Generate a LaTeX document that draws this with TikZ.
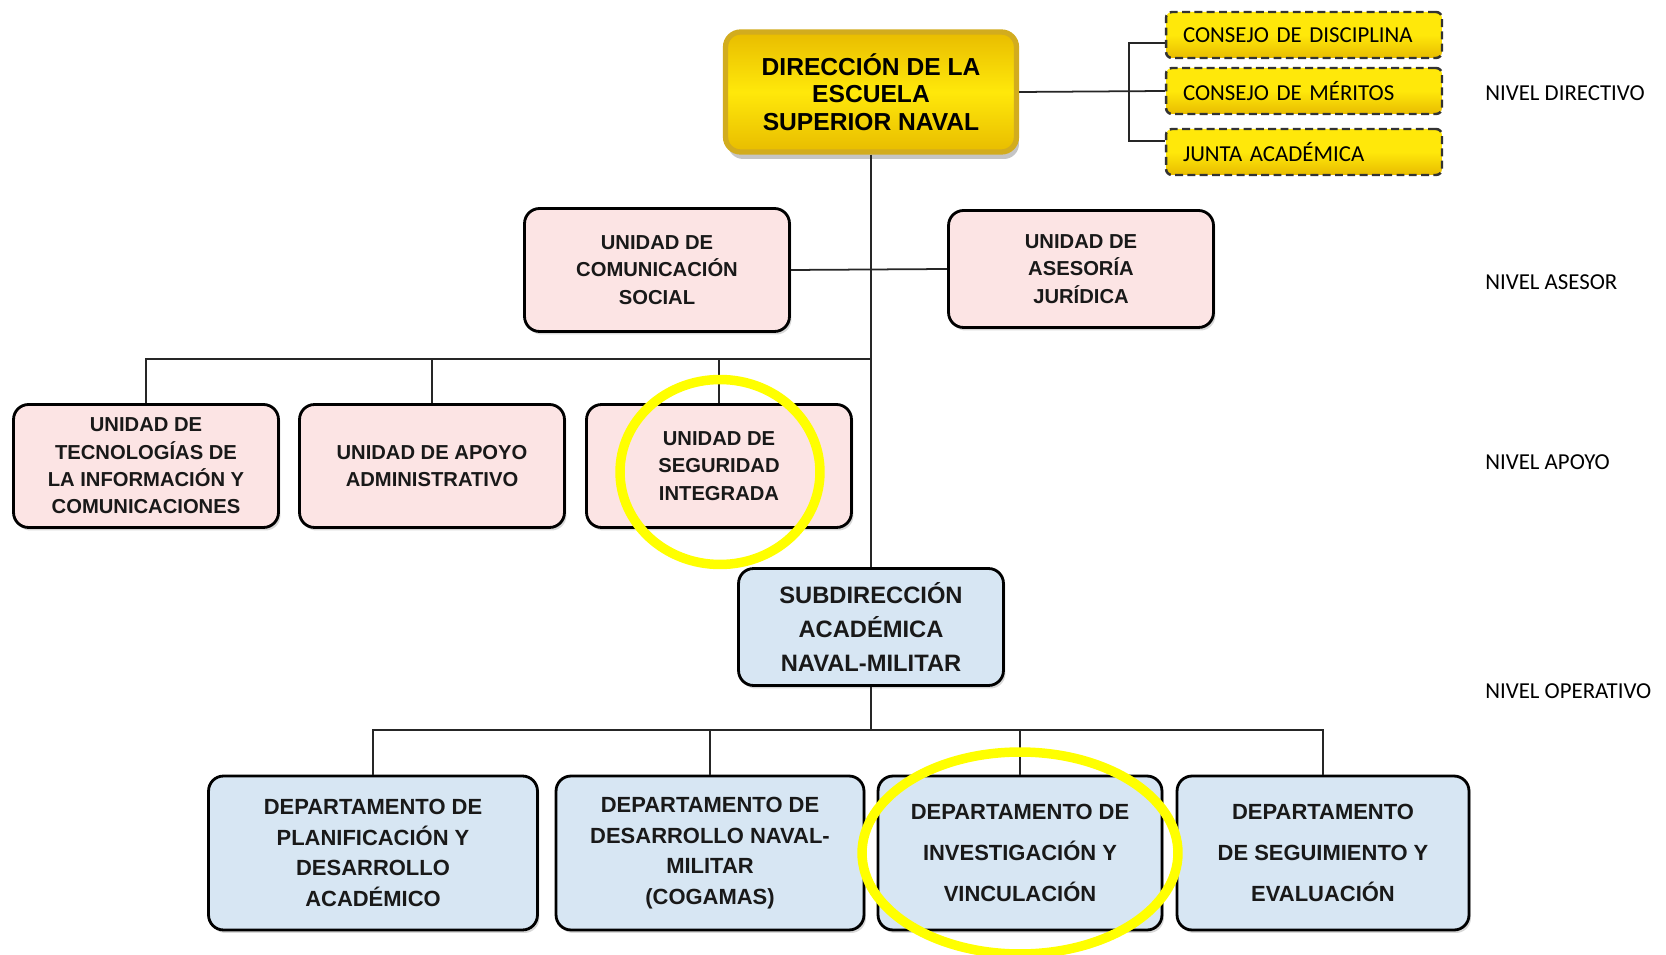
\documentclass[tikz,border=0pt]{standalone}
\usepackage{fontspec}
\setmainfont{Liberation Sans}
\newfontfamily\calib{Carlito}
\usetikzlibrary{shadows,calc}
\definecolor{pinkf}{RGB}{252,228,228}
\definecolor{bluef}{RGB}{215,230,243}
\definecolor{hl}{RGB}{255,255,0}
\definecolor{goldA}{RGB}{255,232,10}
\definecolor{goldB}{RGB}{232,188,0}
\definecolor{goldE}{RGB}{210,172,30}
\tikzset{
  box/.style={draw=black, line width=1.6pt, rounded corners=0.3cm, align=center,
    inner sep=2pt, text=black!90,
    drop shadow={shadow xshift=0.04cm, shadow yshift=-0.06cm, opacity=0.3}},
  pinkbox/.style={box, fill=pinkf, minimum width=5.3cm, minimum height=2.46cm,
    font=\bfseries\fontsize{11.5}{15.6}\selectfont},
  bluebox/.style={box, fill=bluef, minimum height=3.08cm,
    font=\bfseries\fontsize{12.5}{17.5}\selectfont},
  dashbox/.style={draw=black!80, line width=1.4pt, dash pattern=on 4.5pt off 2.5pt,
    rounded corners=0.12cm, top color=goldA, bottom color=goldB, middle color=goldA,
    minimum width=5.52cm, minimum height=0.92cm, text width=4.84cm, align=left,
    inner xsep=0.34cm, font=\calib\fontsize{13}{15}\selectfont},
  conn/.style={draw=black!85, line width=1pt},
  level/.style={anchor=west, font=\calib\fontsize{13}{15}\selectfont, inner sep=0pt},
  ring/.style={draw=hl, line width=5.4pt}
}
\begin{document}
\begin{tikzpicture}[x=0.02cm,y=-0.02cm]
\useasboundingbox (0,0) rectangle (1666,955);
\fill[white] (0,0) rectangle (1666,955);

\coordinate (br) at (1129,91);
\coordinate (busS) at (871,359);
\coordinate (busO) at (871,730);

% top box
\node[draw=goldE, line width=3pt, rounded corners=0.3cm, top color=goldB, bottom color=goldB,
  middle color=goldA, minimum width=5.82cm, minimum height=2.4cm, align=center,
  font=\bfseries\fontsize{14}{15.6}\selectfont,
  drop shadow={shadow xshift=0.05cm, shadow yshift=-0.14cm, opacity=0.45}]
  (dir) at (871,92) {DIRECCIÓN DE LA\\ESCUELA\\SUPERIOR NAVAL};

\node[dashbox] (cons1) at (1304,35) {CONSEJO DE DISCIPLINA};
\node[dashbox] (cons2) at (1304,91) {CONSEJO DE MÉRITOS};
\node[dashbox] (cons3) at (1304,152) {JUNTA ACADÉMICA};

\node[pinkbox] (com) at (657,270) {UNIDAD DE\\COMUNICACIÓN\\SOCIAL};
\node[pinkbox, minimum height=2.34cm] (ase) at (1081,269) {UNIDAD DE\\ASESORÍA\\JURÍDICA};

\node[pinkbox] (sup1) at (146,466) {UNIDAD DE\\TECNOLOGÍAS DE\\LA INFORMACIÓN Y\\COMUNICACIONES};
\node[pinkbox] (sup2) at (432,466) {UNIDAD DE APOYO\\ADMINISTRATIVO};
\node[pinkbox] (sup3) at (719,466) {UNIDAD DE\\SEGURIDAD\\INTEGRADA};

\node[box, fill=bluef, minimum width=5.3cm, minimum height=2.34cm,
  font=\bfseries\fontsize{13.5}{19.3}\selectfont]
  (sub) at (871,627) {SUBDIRECCIÓN\\ACADÉMICA\\NAVAL-MILITAR};

\node[bluebox, minimum width=6.58cm] (dep1) at (373,853) {DEPARTAMENTO DE\\PLANIFICACIÓN Y\\DESARROLLO\\ACADÉMICO};
\node[bluebox, minimum width=6.16cm] (dep2) at (710,853) {DEPARTAMENTO DE\\DESARROLLO NAVAL-\\MILITAR\\(COGAMAS)};
\node[bluebox, minimum width=5.68cm, font=\bfseries\fontsize{12.5}{23.5}\selectfont] (dep3) at (1020,853) {DEPARTAMENTO DE\\INVESTIGACIÓN Y\\VINCULACIÓN};
\node[bluebox, minimum width=5.84cm, font=\bfseries\fontsize{12.5}{23.5}\selectfont] (dep4) at (1323,853) {DEPARTAMENTO\\DE SEGUIMIENTO Y\\EVALUACIÓN};

% connectors
\draw[conn] (dir.south) -- (sub.north);
\draw[conn] (com.east) -- (ase.west);
\draw[conn] (dir.east) -- (cons2.west);
\draw[conn] ([yshift=-0.16cm]cons1.west) -| (br) |- ([yshift=0.22cm]cons3.west);
\draw[conn] (sup1.north) |- (busS);
\draw[conn] (sup2.north) -- (sup2.north |- busS);
\draw[conn] (sup3.north) -- (sup3.north |- busS);
\draw[conn] (sub.south) -- (busO);
\draw[conn] (dep1.north) |- (busO);
\draw[conn] (dep4.north) |- (busO);
\draw[conn] (dep2.north) -- (dep2.north |- busO);
\draw[conn] (dep3.north) -- (dep3.north |- busO);

% level labels
\node[level] (l1) at (1485,93) {NIVEL DIRECTIVO};
\node[level] (l2) at (1485,282) {NIVEL ASESOR};
\node[level] (l3) at (1485,462) {NIVEL APOYO};
\node[level] (l4) at (1485,691) {NIVEL OPERATIVO};

% highlight rings
\draw[ring] (720,472) ellipse [x radius=2.0cm, y radius=1.85cm];
\draw[ring] (1020,853) ellipse [x radius=3.16cm, y radius=2.02cm];
\end{tikzpicture}
\end{document}
